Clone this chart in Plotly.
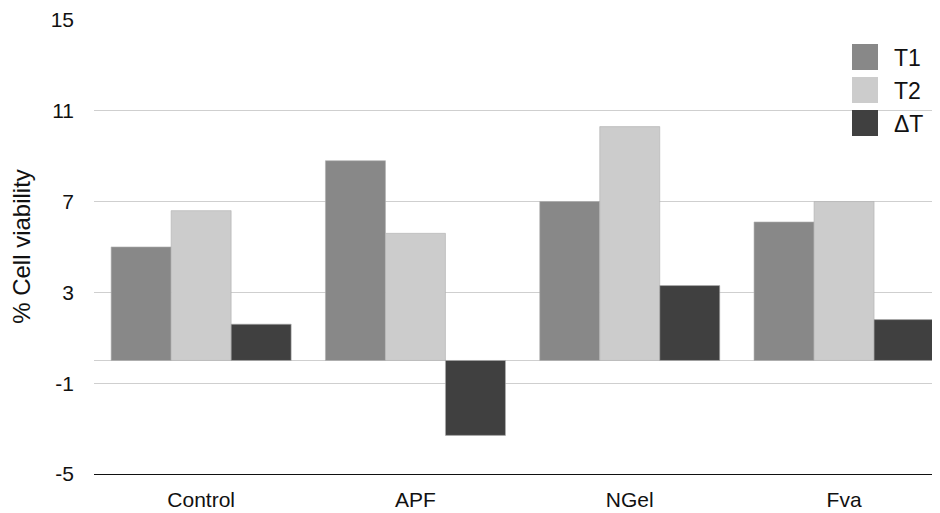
import plotly.graph_objects as go

categories = ["Control", "APF", "NGel", "Fva"]
series_names = ["T1", "T2", "ΔT"]
t1_values = [5.0, 8.8, 7.0, 6.1]
t2_values = [6.6, 5.6, 10.3, 7.0]
dt_values = [1.6, -3.3, 3.3, 1.8]
series_colors = ["#888888", "#cccccc", "#404040"]
y_ticks = [-5, -1, 3, 7, 11, 15]

FONT = "Liberation Sans, Helvetica, Arial, sans-serif"

# page has an 8px body margin; plot area in page coords: x 94..940, y 19..474
W, H = 932, 505
PX0, PX1, PY0, PY1 = 94, 940, 19, 474
CAT_W = 214.3  # pixel width of one category slot (chart is cropped on the right)

fig = go.Figure()
for name, vals, col in zip(series_names, [t1_values, t2_values, dt_values], series_colors):
    fig.add_trace(go.Bar(
        x=categories, y=vals, name=name,
        marker=dict(color=col, line=dict(color="#b0b0b0", width=0.6)),
        showlegend=False,
    ))

# manual legend with large swatches (page pixel positions)
leg_x0, leg_x1 = 852, 878
leg_rows = [44, 77, 110]
for name, col, top in zip(series_names, series_colors, leg_rows):
    fig.add_shape(type="rect", xref="paper", yref="paper",
                  x0=(leg_x0 - PX0) / (PX1 - PX0), x1=(leg_x1 - PX0) / (PX1 - PX0),
                  y0=(PY1 - (top + 26)) / (PY1 - PY0), y1=(PY1 - top) / (PY1 - PY0),
                  fillcolor=col, line=dict(width=0), layer="above")
    fig.add_annotation(xref="paper", yref="paper",
                       x=(892 - PX0) / (PX1 - PX0), y=(PY1 - (top + 14)) / (PY1 - PY0),
                       text=name, showarrow=False, xanchor="left", yanchor="middle",
                       font=dict(family=FONT, size=23, color="#111111"))

fig.update_layout(
    width=W, height=H,
    margin=dict(l=PX0 - 8, r=0, t=PY0 - 8, b=39, pad=0),
    paper_bgcolor="white", plot_bgcolor="white",
    barmode="group", bargap=0.16, bargroupgap=0,
    font=dict(family=FONT, size=21, color="#111111"),
    showlegend=False,
)
fig.update_yaxes(
    range=[-5, 15.04], tickvals=y_ticks, ticktext=[str(v) for v in y_ticks],
    showgrid=True, gridcolor="#cfcfcf", gridwidth=1.2,
    zeroline=True, zerolinecolor="#cfcfcf", zerolinewidth=1.2,
    showline=False, ticks="", ticklabelstandoff=19,
    title=dict(text="% Cell viability", font=dict(size=24), standoff=13),
    automargin=False,
)
fig.update_xaxes(
    range=[-0.5, -0.5 + (PX1 - PX0) / CAT_W],
    showline=True, linecolor="#111111", linewidth=1.2,
    ticks="", showgrid=False, tickfont=dict(size=21), ticklabelstandoff=7,
    automargin=False,
)
fig.write_html("out.html")
